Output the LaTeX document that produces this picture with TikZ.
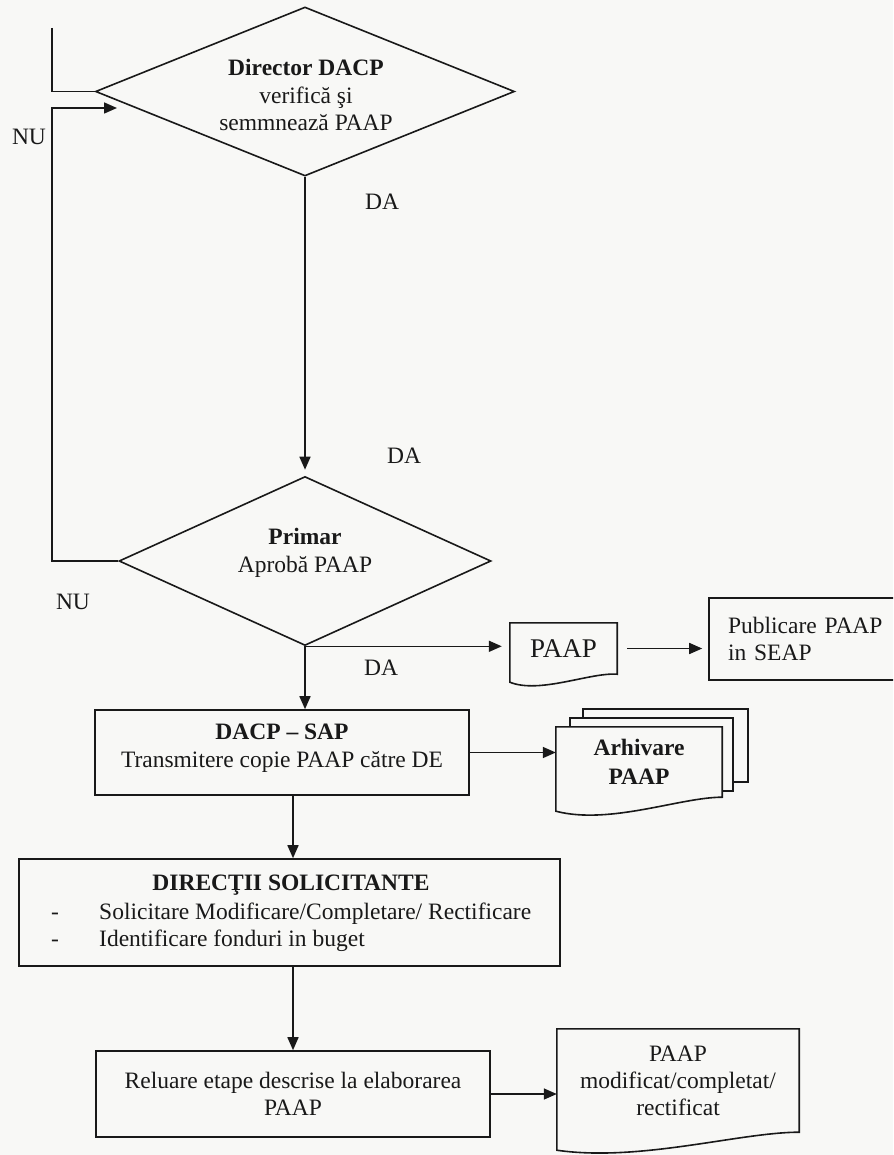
\documentclass[tikz,border=0pt]{standalone}
\usepackage{fontspec}
\setmainfont{Liberation Serif}
\usetikzlibrary{shapes.geometric,arrows.meta,calc}
\definecolor{ink}{RGB}{25,25,25}
\definecolor{paper}{RGB}{248,248,246}
\begin{document}
\begin{tikzpicture}[x=1pt,y=-1pt,
  txt/.style={font=\fontsize{23.5}{27.5}\selectfont, text=ink, inner sep=0pt},
  ln/.style={draw=ink, line width=1.6pt},
  boxshape/.style={ln, rectangle, inner sep=0pt},
  decision/.style={ln, diamond, inner sep=0pt},
  docarea/.style={rectangle, inner sep=0pt},
  arr/.style={ln, -{Triangle[length=13pt,width=11pt]}}]

\clip (0,0) rectangle (893,1155);
\fill[paper] (0,0) rectangle (893,1155);

% decisions
\node[decision, minimum width=419pt, minimum height=169pt] (d1) at (305,91.5) {};
\node[txt, align=center] (t1) at (306,95) {\textbf{Director DACP}\\verifică şi\\semmnează PAAP};
\node[decision, minimum width=372pt, minimum height=169pt] (d2) at (305,561) {};
\node[txt, align=center] (t2) at (305,553) {\textbf{Primar}\\Aprobă PAAP};

% process boxes
\node[boxshape, minimum width=374pt, minimum height=85pt] (sap) at (282,752.5) {};
\node[txt, align=center] (sapt) at (282,748) {\textbf{DACP – SAP}\\Transmitere copie PAAP către DE};

\node[boxshape, minimum height=82pt, text width=170pt, inner xsep=19pt, inner ysep=0pt,
      align=left, font=\fontsize{23.5}{27.5}\selectfont, text=ink] (pub) at (813,639)
      {Publicare PAAP\\in SEAP};

\node[boxshape, minimum width=541pt, minimum height=107pt] (dir) at (289.5,912.5) {};
\node[txt, anchor=base] (dirh) at (291,890) {\textbf{DIRECŢII SOLICITANTE}};
\node[txt, anchor=base] (dash1) at (55,919) {-};
\node[txt, anchor=base west] (b1) at (99,919) {Solicitare Modificare/Completare/ Rectificare};
\node[txt, anchor=base] (dash2) at (55,946) {-};
\node[txt, anchor=base west] (b2) at (99,946) {Identificare fonduri in buget};

\node[boxshape, minimum width=394pt, minimum height=86pt, align=center,
      font=\fontsize{23.5}{27.5}\selectfont, text=ink] (rel) at (293,1094)
      {Reluare etape descrise la elaborarea\\PAAP};

% documents
\node[docarea, minimum width=107pt, minimum height=51pt,
      font=\fontsize{27}{30}\selectfont, text=ink] (paap) at (563.5,648.5) {PAAP};
\draw[ln] ($(paap.south west)+(0,8)$) -- (paap.north west) -- (paap.north east)
  -- (paap.south east) .. controls +(-27,-2) and +(30,12) .. ($(paap.south west)+(0,8)$) -- cycle;

\node[docarea, minimum width=166pt, minimum height=70pt, align=center,
      font=\fontsize{23.5}{29}\selectfont\bfseries, text=ink] (arh) at (639,762) {Arhivare\\PAAP};
\draw[ln] ([shift={(14,0)}]arh.north west) -- ++(0,-9) -- ++(163,0) -- ++(0,73) -- ++(-11,0);
\draw[ln] ([shift={(27,-9)}]arh.north west) -- ++(0,-9) -- ++(165,0) -- ++(0,73) -- ++(-15,0);
\draw[ln] ($(arh.south west)+(0,14)$) -- (arh.north west) -- (arh.north east)
  -- (arh.south east) .. controls +(-42,0) and +(54,14) .. ($(arh.south west)+(0,14)$) -- cycle;

\node[docarea, minimum width=242pt, minimum height=103pt, align=center,
      font=\fontsize{23.5}{27}\selectfont, text=ink] (mod) at (678,1080.5)
      {PAAP\\modificat/completat/\\rectificat};
\draw[ln] ($(mod.south west)+(0,18)$) -- (mod.north west) -- (mod.north east)
  -- (mod.south east) .. controls +(-59,0) and +(83,12) .. ($(mod.south west)+(0,18)$) -- cycle;

% connectors
\coordinate (ltop) at (52,28);
\coordinate (lturn) at (52,108);
\coordinate (lin) at (117,108);
\draw[ln] (ltop) |- (d1.west);
\draw[arr] (d2.west) -| (lturn) -- (lin);
\draw[arr, shorten >=6pt] (d1.south) -- (d2.north);
\draw[arr] (d2.south) -- (d2.south |- sap.north);
\draw[arr, shorten >=8pt] (d2.south) -- (d2.south -| paap.west);
\draw[arr, shorten <=10pt, shorten >=6pt] (paap.east) -- (paap.east -| pub.west);
\draw[arr] (sap.east) -- (sap.east -| arh.west);
\draw[arr] (sap.south -| rel.north) -- (dir.north -| rel.north);
\draw[arr] (dir.south -| rel.north) -- (rel.north);
\draw[arr] (rel.east) -- (rel.east -| mod.west);

% branch labels
\node[txt] (nu1) at (29,137) {NU};
\node[txt] (da1) at (382,202) {DA};
\node[txt] (da2) at (404,456) {DA};
\node[txt] (nu2) at (73,602) {NU};
\node[txt] (da3) at (381,668) {DA};
\end{tikzpicture}
\end{document}
